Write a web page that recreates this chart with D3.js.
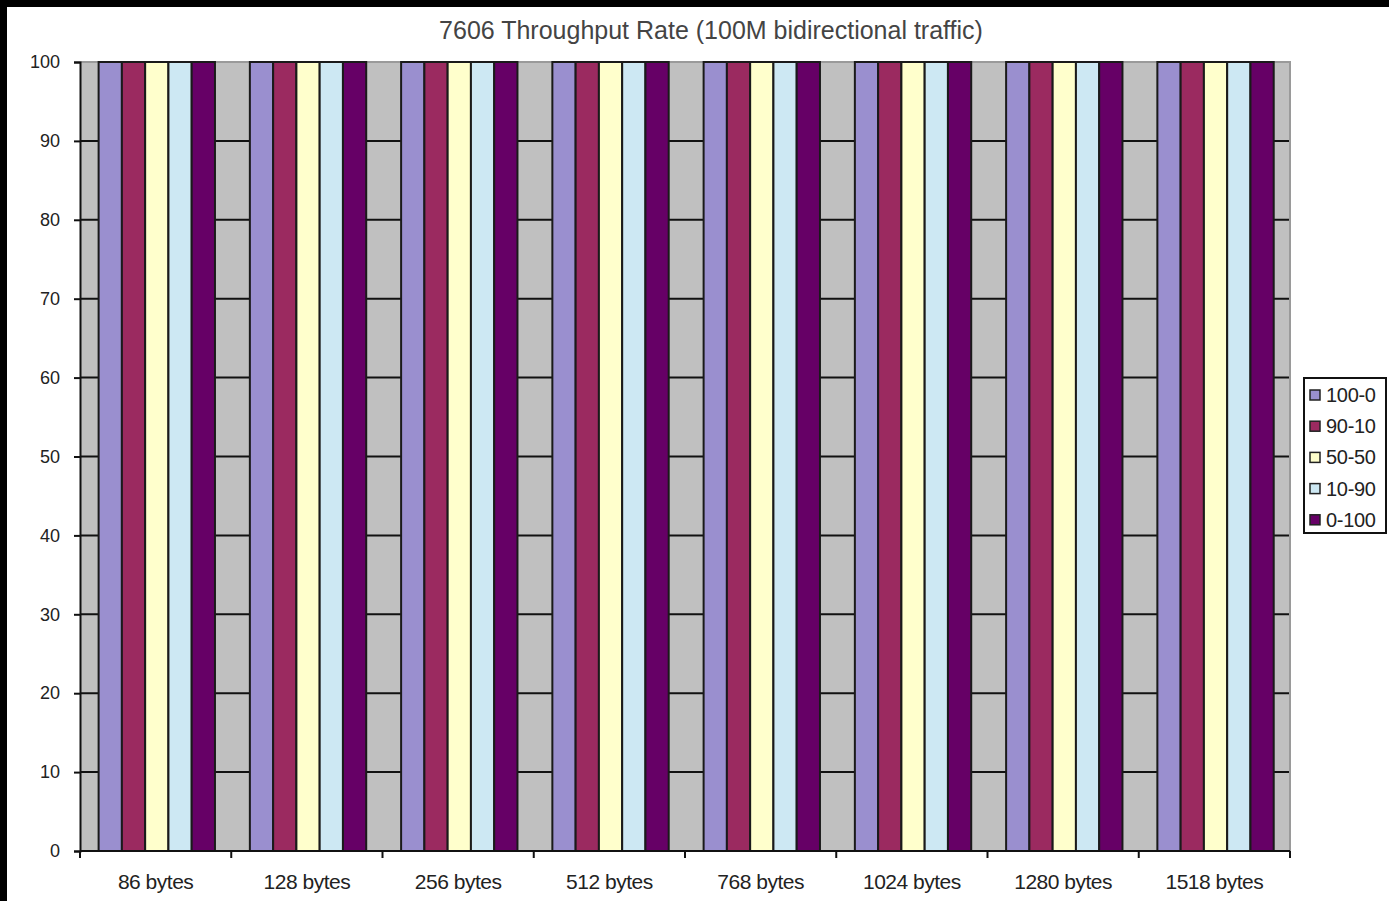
<!DOCTYPE html>
<html>
<head>
<meta charset="utf-8">
<script src="https://cdn.jsdelivr.net/npm/d3@7"></script>
<style>
  html, body { margin: 0; padding: 0; background: #fff; }
  svg { display: block; }
</style>
</head>
<body>
<svg id="chart" width="1389" height="901"></svg>
<script>
// Frame sizes and series
const categories = ["86 bytes", "128 bytes", "256 bytes", "512 bytes", "768 bytes", "1024 bytes", "1280 bytes", "1518 bytes"];
const seriesNames = ["100-0", "90-10", "50-50", "10-90", "0-100"];
const seriesColors = ["#9a8fcf", "#9b2a60", "#ffffcc", "#cde8f3", "#660066"];
const values = [
  [100, 100, 100, 100, 100, 100, 100, 100],
  [100, 100, 100, 100, 100, 100, 100, 100],
  [100, 100, 100, 100, 100, 100, 100, 100],
  [100, 100, 100, 100, 100, 100, 100, 100],
  [100, 100, 100, 100, 100, 100, 100, 100]
];
const yTicks = [0, 10, 20, 30, 40, 50, 60, 70, 80, 90, 100];

const svg = d3.select("#chart");
const W = 1389, H = 901;
const plot = { left: 80, right: 1290, top: 62, bottom: 851 };
const font = "Liberation Sans, Arial, sans-serif";

// dark frame strips along top and left edges
svg.append("rect").attr("x", 0).attr("y", 0).attr("width", W).attr("height", 7).attr("fill", "#000");
svg.append("rect").attr("x", 0).attr("y", 0).attr("width", 7).attr("height", H).attr("fill", "#000");

const x0 = d3.scaleBand().domain(categories).range([plot.left, plot.right]).paddingInner(0).paddingOuter(0);
// bar width: group = 5 bars + 1.5 bar gap
const barW = x0.bandwidth() / 6.5;
const y = d3.scaleLinear().domain([0, 100]).range([plot.bottom, plot.top]);

// plot background
svg.append("rect")
  .attr("x", plot.left).attr("y", plot.top)
  .attr("width", plot.right - plot.left).attr("height", plot.bottom - plot.top)
  .attr("fill", "#c0c0c0");

// horizontal gridlines
svg.append("g").selectAll("line").data(yTicks.filter(d => d > 0 && d < 100)).join("line")
  .attr("x1", plot.left).attr("x2", plot.right)
  .attr("y1", d => y(d)).attr("y2", d => y(d))
  .attr("stroke", "#111").attr("stroke-width", 2);

// plot border top/right
svg.append("path")
  .attr("d", `M${plot.left},${plot.top}H${plot.right}V${plot.bottom}`)
  .attr("fill", "none").attr("stroke", "#9a9a9a").attr("stroke-width", 2);

// bars
const groups = svg.append("g").selectAll("g").data(categories).join("g");
groups.selectAll("rect")
  .data((c, ci) => seriesNames.map((s, si) => ({ c, si, v: values[si][ci] })))
  .join("rect")
  .attr("x", d => x0(d.c) + barW * 0.8 + d.si * barW)
  .attr("y", d => y(d.v))
  .attr("width", barW)
  .attr("height", d => y(0) - y(d.v))
  .attr("fill", d => seriesColors[d.si])
  .attr("stroke", "#1a1a1a").attr("stroke-width", 2);

// y axis
const yAxis = d3.axisLeft(y).tickValues(yTicks).tickSize(6).tickPadding(14).tickFormat(d3.format("d"));
const gy = svg.append("g").attr("transform", `translate(${plot.left},0)`).call(yAxis);
gy.select(".domain").attr("stroke", "#111").attr("stroke-width", 2);
gy.selectAll(".tick line").attr("stroke", "#111").attr("stroke-width", 2);
gy.selectAll(".tick text").attr("font-family", font).attr("font-size", 18).attr("fill", "#222");

// x axis with ticks at category boundaries
const gx = svg.append("g").attr("transform", `translate(0,${plot.bottom})`);
gx.append("line").attr("x1", plot.left).attr("x2", plot.right).attr("stroke", "#111").attr("stroke-width", 2);
const bounds = categories.map(c => x0(c)).concat([plot.right]);
gx.selectAll("line.tk").data(bounds).join("line").attr("class", "tk")
  .attr("x1", d => d).attr("x2", d => d).attr("y1", 0).attr("y2", 7)
  .attr("stroke", "#111").attr("stroke-width", 2);
gx.selectAll("text").data(categories).join("text")
  .attr("x", d => x0(d) + x0.bandwidth() / 2)
  .attr("y", 38)
  .attr("text-anchor", "middle")
  .attr("font-family", font).attr("font-size", 21)
  .attr("letter-spacing", -0.5)
  .attr("fill", "#222")
  .text(d => d);

// title
svg.append("text")
  .attr("x", 711).attr("y", 39)
  .attr("text-anchor", "middle")
  .attr("font-family", font).attr("font-size", 25)
  .attr("fill", "#444")
  .text("7606 Throughput Rate (100M bidirectional traffic)");

// legend
const lg = svg.append("g");
lg.append("rect").attr("x", 1304).attr("y", 378).attr("width", 82).attr("height", 155)
  .attr("fill", "#fff").attr("stroke", "#111").attr("stroke-width", 2);
const items = lg.selectAll("g").data(seriesNames).join("g")
  .attr("transform", (d, i) => `translate(1310,${395 + i * 31.2})`);
items.append("rect").attr("x", 0).attr("y", -5).attr("width", 10).attr("height", 10)
  .attr("fill", (d, i) => seriesColors[i]).attr("stroke", "#222").attr("stroke-width", 1.5);
items.append("text").attr("x", 16).attr("y", 7)
  .attr("font-family", font).attr("font-size", 20)
  .attr("letter-spacing", -0.3)
  .attr("fill", "#222").text(d => d);
</script>
</body>
</html>
